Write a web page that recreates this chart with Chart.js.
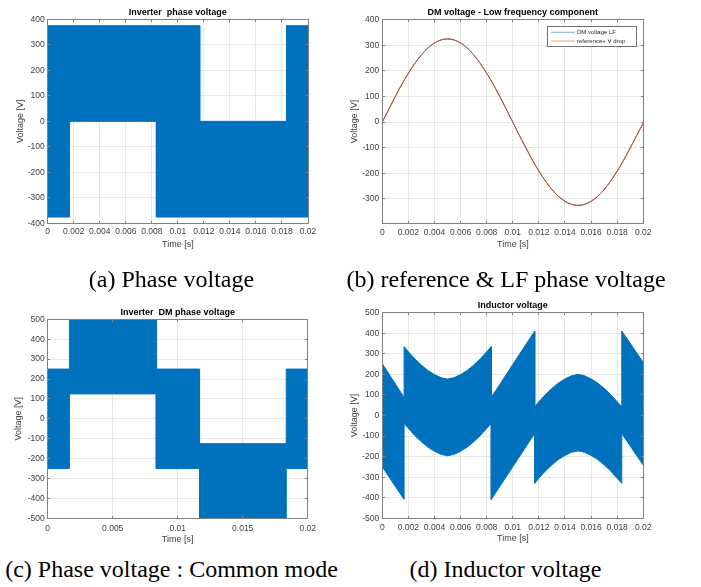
<!DOCTYPE html>
<html><head><meta charset="utf-8">
<script src="https://cdn.jsdelivr.net/npm/chart.js@4.4.1/dist/chart.umd.min.js"></script>
<style>
html,body{margin:0;padding:0;background:#fff;width:701px;height:587px;overflow:hidden;position:relative;}
canvas{position:absolute;}
.cap{position:absolute;font-family:"Liberation Serif","Times New Roman",serif;font-size:24px;line-height:24px;white-space:nowrap;color:#000;transform:translateX(-50%);}
</style></head><body>
<canvas id="cA"></canvas>
<canvas id="cB"></canvas>
<canvas id="cC"></canvas>
<canvas id="cD"></canvas>
<div class="cap" style="left:171.5px;top:267px">(a) Phase voltage</div>
<div class="cap" style="left:506px;top:267px">(b) reference &amp; LF phase voltage</div>
<div class="cap" style="left:171.5px;top:557px">(c) Phase voltage : Common mode</div>
<div class="cap" style="left:505.5px;top:557px">(d) Inductor voltage</div>
<script>
// ---------- data ----------
// (a) inverter phase voltage: PWM band envelope
const timeA  = [0, 0.00167, 0.00167, 0.00835, 0.00835, 0.01168, 0.01168, 0.01835, 0.01835, 0.02];
const upperA = [375, 375, 375, 375, 375, 375, 0, 0, 375, 375];
const lowerA = [-375, -375, 0, 0, -375, -375, -375, -375, -375, -375];

// (b) low-frequency DM voltage and reference (sampled every 0.5 ms)
const timeB = [0,0.0005,0.001,0.0015,0.002,0.0025,0.003,0.0035,0.004,0.0045,0.005,0.0055,0.006,0.0065,0.007,0.0075,0.008,0.0085,0.009,0.0095,0.01,0.0105,0.011,0.0115,0.012,0.0125,0.013,0.0135,0.014,0.0145,0.015,0.0155,0.016,0.0165,0.017,0.0175,0.018,0.0185,0.019,0.0195,0.02];
const dmVoltageLF = [0,51,100,148,191,230,263,290,309,321,325,321,309,290,263,230,191,148,100,51,0,-51,-100,-148,-191,-230,-263,-290,-309,-321,-325,-321,-309,-290,-263,-230,-191,-148,-100,-51,-4];
const referenceVdrop = [0,51,100,148,191,230,263,290,309,321,325,321,309,290,263,230,191,148,100,51,0,-51,-100,-148,-191,-230,-263,-290,-309,-321,-325,-321,-309,-290,-263,-230,-191,-148,-100,-51,-4];

// (c) inverter DM phase voltage band envelope
const timeC  = [0, 0.00167, 0.00167, 0.00835, 0.00835, 0.01168, 0.01168, 0.01835, 0.01835, 0.02];
const upperC = [250, 250, 500, 500, 250, 250, -125, -125, 250, 250];
const lowerC = [-250, -250, 125, 125, -250, -250, -500, -500, -250, -250];

// (d) inductor voltage band envelope
const timeD  = [0,0.00167, 0.00167,0.002,0.0025,0.003,0.0035,0.004,0.0045,0.005,0.0055,0.006,0.0065,0.007,0.0075,0.008,0.00835, 0.00835,0.01,0.01168, 0.01168,0.012,0.0125,0.013,0.0135,0.014,0.0145,0.015,0.0155,0.016,0.0165,0.017,0.0175,0.018,0.01835, 0.01835,0.02];
const upperD = [252,88, 335,310,275,245,219,199,184,177,184,199,219,245,275,310,335, 88,248,411, 42,67,102,132,158,178,193,200,193,178,158,132,102,67,42, 411,258];
const lowerD = [-250,-408, -38,-63,-98,-128,-154,-174,-189,-196,-189,-174,-154,-128,-98,-63,-38, -408,-249,-87, -330,-305,-270,-240,-214,-194,-179,-172,-179,-194,-214,-240,-270,-305,-330, -88,-242];

// ticks
const xTicks2ms  = [0,0.002,0.004,0.006,0.008,0.01,0.012,0.014,0.016,0.018,0.02];
const xLabels2ms = ['0','0.002','0.004','0.006','0.008','0.01','0.012','0.014','0.016','0.018','0.02'];
const xTicks5ms  = [0,0.005,0.01,0.015,0.02];
const xLabels5ms = ['0','0.005','0.01','0.015','0.02'];
const yTicks400  = [-400,-300,-200,-100,0,100,200,300,400];
const yLabels400 = ['-400','-300','-200','-100','0','100','200','300','400'];
const yTicksB    = [-300,-200,-100,0,100,200,300,400];
const yLabelsB   = ['-300','-200','-100','0','100','200','300','400'];
const yTicks500  = [-500,-400,-300,-200,-100,0,100,200,300,400,500];
const yLabels500 = ['-500','-400','-300','-200','-100','0','100','200','300','400','500'];

// ---------- styling ----------
const BLUE = '#0072BD', ORANGE = '#D95319';
const FONT = "'Liberation Sans', Arial, Helvetica, sans-serif";
const GRID = '#e6e6e6', TICKC = '#404040', AXC = '#404040', BOXC = '#808080';
Chart.defaults.font.family = FONT;

function alignPx(p){ return Math.round(p - 0.5) + 0.5; }

const boxPlugin = {
  id: 'matlabBox',
  afterDatasetsDraw(chart) {
    const {ctx, chartArea: a} = chart;
    const xs = chart.scales.x, ys = chart.scales.y;
    const l = alignPx(a.left), r = alignPx(a.right), t = alignPx(a.top), b = alignPx(a.bottom);
    const tl = 2.6;
    ctx.save();
    ctx.strokeStyle = BOXC; ctx.lineWidth = 1;
    ctx.beginPath();
    xs.ticks.forEach(tk => { const p = alignPx(xs.getPixelForValue(tk.value));
      ctx.moveTo(p, b); ctx.lineTo(p, b - tl); ctx.moveTo(p, t); ctx.lineTo(p, t + tl); });
    ys.ticks.forEach(tk => { const p = alignPx(ys.getPixelForValue(tk.value));
      ctx.moveTo(l, p); ctx.lineTo(l + tl, p); ctx.moveTo(r, p); ctx.lineTo(r - tl, p); });
    ctx.stroke();
    ctx.strokeRect(l, t, r - l, b - t);
    ctx.restore();
  }
};

const legendPlugin = {
  id: 'insideLegend',
  afterDraw(chart, args, o) {
    if (!o || !o.show) return;
    const {ctx, chartArea: a} = chart;
    const x1 = a.right - o.right - o.width, y1 = a.top + o.top;
    ctx.save();
    ctx.fillStyle = '#fff'; ctx.fillRect(x1, y1, o.width, o.height);
    ctx.strokeStyle = '#707070'; ctx.lineWidth = 1;
    ctx.strokeRect(alignPx(x1), alignPx(y1), Math.round(o.width), Math.round(o.height));
    ctx.font = o.fontSize + 'px ' + FONT; ctx.textBaseline = 'middle'; ctx.textAlign = 'left';
    chart.data.datasets.forEach((ds, i) => {
      const yy = y1 + o.firstRow + i * o.rowGap;
      ctx.globalAlpha = 0.45; ctx.strokeStyle = ds.borderColor; ctx.lineWidth = 1.2;
      ctx.beginPath(); ctx.moveTo(x1 + o.lineStart, yy); ctx.lineTo(x1 + o.lineStart + o.lineLen, yy); ctx.stroke();
      ctx.globalAlpha = 1; ctx.fillStyle = '#262626';
      ctx.fillText(ds.label, x1 + o.textStart, yy);
    });
    ctx.restore();
  }
};

function band(t, up, lo) {
  return [
    {label: 'upper', data: t.map((x, i) => ({x: x, y: up[i]})), borderColor: BLUE, backgroundColor: BLUE,
     borderWidth: 1, pointRadius: 0, fill: false, tension: 0},
    {label: 'lower', data: t.map((x, i) => ({x: x, y: lo[i]})), borderColor: BLUE, backgroundColor: BLUE,
     borderWidth: 1, pointRadius: 0, fill: '-1', tension: 0}
  ];
}

function makePanel(id, P) {
  const cv = document.getElementById(id);
  cv.style.left = P.cx + 'px'; cv.style.top = P.cy + 'px';
  cv.width = P.cw; cv.height = P.ch;
  const titleSize = 9, axSize = 9, tickSize = 8.5;
  const lhT = titleSize * 1.2, lhA = axSize * 1.2, lhK = tickSize * 1.2;
  const tTop = P.titleY - P.cy - lhT / 2;
  const tBot = (P.T - P.cy) - tTop - lhT;
  const wy = P.L - P.cx;
  const hx = (P.cy + P.ch) - P.B;
  return new Chart(cv, {
    type: 'line',
    data: {datasets: P.datasets},
    options: {
      responsive: false, animation: false, events: [],
      layout: {padding: {left: 0, top: 0, bottom: 0, right: (P.cx + P.cw) - P.R}},
      plugins: {
        legend: {display: false}, tooltip: {enabled: false},
        title: {display: true, text: P.title, fullSize: false, color: '#000',
                font: {family: FONT, size: titleSize, weight: 'bold'}, padding: {top: tTop, bottom: tBot}},
        insideLegend: P.legend || {show: false}
      },
      scales: {
        x: {type: 'linear', min: P.xMin, max: P.xMax,
            afterBuildTicks: s => { s.ticks = P.xTicks.map(v => ({value: v})); },
            afterFit: s => { s.height = hx; },
            ticks: {autoSkip: false, maxRotation: 0, minRotation: 0, padding: P.xTickY - P.B - lhK / 2,
                    color: TICKC, font: {family: FONT, size: tickSize}, callback: (v, i) => P.xLabels[i]},
            grid: {color: GRID, drawTicks: false, lineWidth: 1},
            border: {display: false},
            title: {display: true, text: 'Time [s]', color: AXC, font: {family: FONT, size: axSize},
                    padding: {top: 0, bottom: (P.cy + P.ch) - P.xTitleY - lhA / 2}}},
        y: {type: 'linear', min: P.yMin, max: P.yMax,
            afterBuildTicks: s => { s.ticks = P.yTicks.map(v => ({value: v})); },
            afterFit: s => { s.width = wy; },
            ticks: {autoSkip: false, padding: 3, color: TICKC, font: {family: FONT, size: tickSize},
                    callback: (v, i) => P.yLabels[i]},
            grid: {color: GRID, drawTicks: false, lineWidth: 1},
            border: {display: false},
            title: {display: true, text: 'Voltage [V]', color: AXC, font: {family: FONT, size: axSize},
                    padding: {top: P.yTitleX - P.cx - lhA / 2, bottom: 0}}}
      }
    },
    plugins: [boxPlugin, legendPlugin]
  });
}

makePanel('cA', {cx: 0, cy: 0, cw: 350, ch: 260, L: 47.7, T: 19.3, R: 308, B: 223.4,
  titleY: 12.3, yTitleX: 20.7, xTickY: 232, xTitleY: 244.3,
  title: 'Inverter  phase voltage', xMin: 0, xMax: 0.02, yMin: -400, yMax: 400,
  xTicks: xTicks2ms, xLabels: xLabels2ms, yTicks: yTicks400, yLabels: yLabels400,
  datasets: band(timeA, upperA, lowerA)});

makePanel('cB', {cx: 350, cy: 0, cw: 351, ch: 260, L: 382.3, T: 19.7, R: 643.3, B: 223.3,
  titleY: 12.3, yTitleX: 355, xTickY: 232.3, xTitleY: 245,
  title: 'DM voltage - Low frequency component', xMin: 0, xMax: 0.02, yMin: -395, yMax: 400,
  xTicks: xTicks2ms, xLabels: xLabels2ms, yTicks: yTicksB, yLabels: yLabelsB,
  legend: {show: true, right: 6.3, top: 7.3, width: 89, height: 20, firstRow: 5.3, rowGap: 8.7,
           lineStart: 3, lineLen: 24, textStart: 29, fontSize: 6},
  datasets: [
    {label: 'DM voltage LF', data: timeB.map((x, i) => ({x: x, y: dmVoltageLF[i]})), borderColor: BLUE,
     borderWidth: 1, pointRadius: 0, fill: false, cubicInterpolationMode: 'monotone', order: 1},
    {label: 'reference+ V drop', data: timeB.map((x, i) => ({x: x, y: referenceVdrop[i]})), borderColor: ORANGE,
     borderWidth: 1, pointRadius: 0, fill: false, cubicInterpolationMode: 'monotone', order: 0}
  ]});

makePanel('cC', {cx: 0, cy: 290, cw: 350, ch: 260, L: 47.7, T: 319.3, R: 307.7, B: 518.3,
  titleY: 312.3, yTitleX: 19, xTickY: 528.3, xTitleY: 540,
  title: 'Inverter  DM phase voltage', xMin: 0, xMax: 0.02, yMin: -500, yMax: 500,
  xTicks: xTicks5ms, xLabels: xLabels5ms, yTicks: yTicks500, yLabels: yLabels500,
  datasets: band(timeC, upperC, lowerC)});

makePanel('cD', {cx: 350, cy: 290, cw: 351, ch: 260, L: 382.3, T: 312.7, R: 643.3, B: 518.3,
  titleY: 306, yTitleX: 355, xTickY: 527.3, xTitleY: 538.3,
  title: 'Inductor voltage', xMin: 0, xMax: 0.02, yMin: -500, yMax: 500,
  xTicks: xTicks2ms, xLabels: xLabels2ms, yTicks: yTicks500, yLabels: yLabels500,
  datasets: band(timeD, upperD, lowerD)});
</script>
</body></html>
